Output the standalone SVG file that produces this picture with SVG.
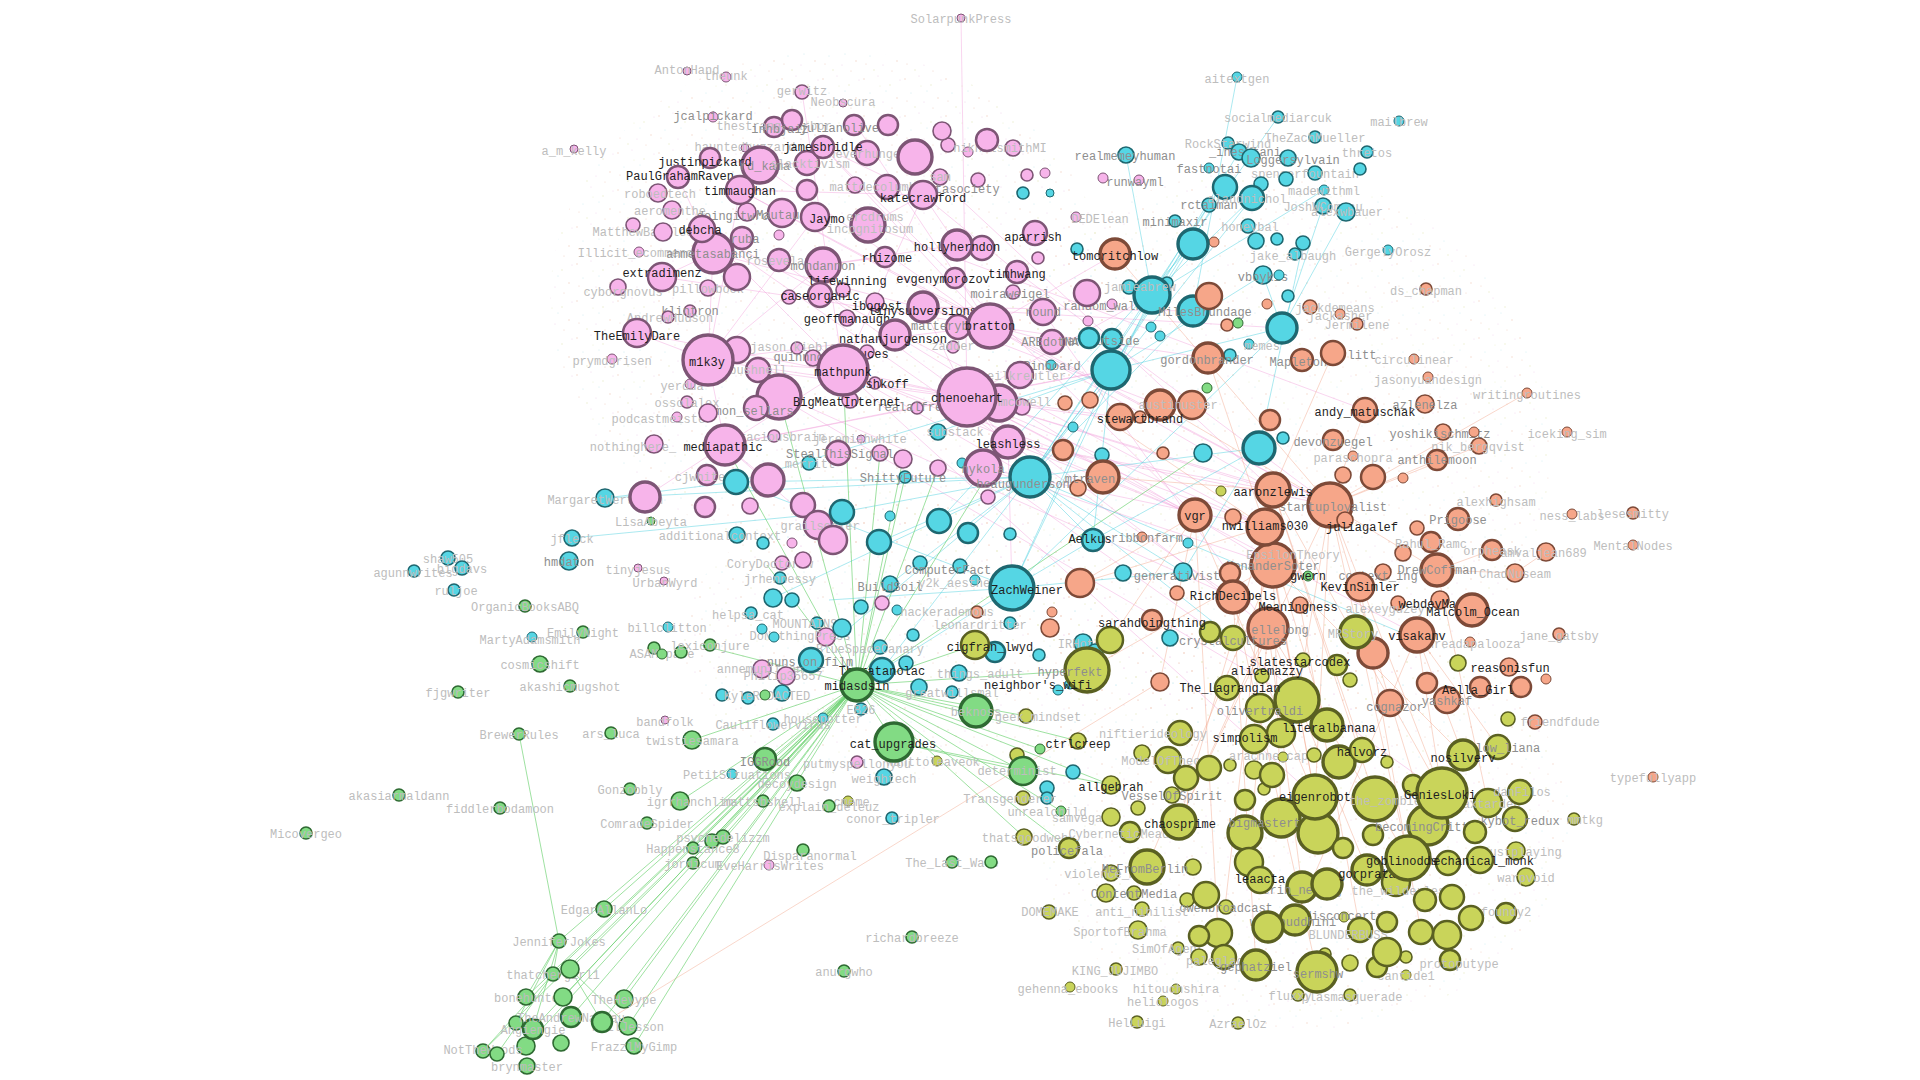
<svg xmlns="http://www.w3.org/2000/svg" width="1920" height="1080" viewBox="0 0 1920 1080">
<defs>
<style>
.p{fill:#f7b4ea;stroke:#7d5575}
.c{fill:#55d6e4;stroke:#1e6770}
.o{fill:#f6a689;stroke:#7d4a38}
.y{fill:#c9d45a;stroke:#5a6022}
.g{fill:#82db84;stroke:#2e6a32}
.w1{stroke-width:1}
.w2{stroke-width:1.6}
.w3{stroke-width:2.5}
.w4{stroke-width:3.4}
text{font-family:"Liberation Mono","DejaVu Sans Mono",monospace;font-size:12px;text-anchor:middle;dominant-baseline:central}
.l{fill:#bdbdbd}
.m{fill:#8e8e8e}
.d{fill:#1e1e1e}
.ep{stroke:#f2a6de;stroke-width:0.8;fill:none;opacity:0.6}
.ec{stroke:#4fd0e0;stroke-width:0.8;fill:none;opacity:0.6}
.eo{stroke:#f1a487;stroke-width:0.8;fill:none;opacity:0.55}
.eg{stroke:#6fd273;stroke-width:0.9;fill:none;opacity:0.75}
</style>
<pattern id="grain" width="41" height="37" patternUnits="userSpaceOnUse">
<circle cx="3" cy="5" r="0.7" fill="#e9a990"/>
<circle cx="17" cy="2" r="0.6" fill="#e6b0e0"/>
<circle cx="29" cy="11" r="0.7" fill="#d9dc9a"/>
<circle cx="9" cy="19" r="0.6" fill="#9fdde6"/>
<circle cx="36" cy="24" r="0.7" fill="#e9a990"/>
<circle cx="22" cy="28" r="0.6" fill="#e6b0e0"/>
<circle cx="13" cy="33" r="0.7" fill="#d9dc9a"/>
<circle cx="31" cy="34" r="0.6" fill="#e9a990"/>
<circle cx="25" cy="17" r="0.6" fill="#9fdde6"/>
<circle cx="39" cy="6" r="0.6" fill="#e6b0e0"/>
<circle cx="5" cy="27" r="0.6" fill="#e9a990"/>
<circle cx="19" cy="12" r="0.5" fill="#d9dc9a"/>
</pattern>
</defs>
<rect width="1920" height="1080" fill="#ffffff"/>
<g id="haze" opacity="0.5">
<ellipse cx="830" cy="300" rx="280" ry="250" fill="url(#grain)"/>
<ellipse cx="1260" cy="450" rx="290" ry="280" fill="url(#grain)"/>
<ellipse cx="1300" cy="820" rx="270" ry="210" fill="url(#grain)"/>
<ellipse cx="900" cy="640" rx="220" ry="140" fill="url(#grain)"/>
</g>
<g id="connectors">
<path class="ep" d="M967 397L708 360M967 397L843 370M967 397L923 307M967 397L725 445M967 397L1008 442M967 397L1273 490M967 397L1195 515M967 397L1330 505M967 397L1265 527M967 397L1111 370M967 397L1030 477M967 397L1152 295M967 397L1120 417M967 397L779 260M967 397L1417 635M967 397L1268 628M990 326L708 360M990 326L823 147M990 326L740 190M990 326L1273 490M990 326L1330 505M990 326L1208 358M990 326L1115 254M990 326L713 253M843 370L708 360M843 370L725 445M843 370L702 229M843 370L923 195M843 370L1030 477M843 370L1195 515M843 370L1265 527M708 360L713 253M708 360L740 190M708 360L637 333M708 360L725 445M708 360L823 265M708 360L815 217M923 195L823 147M923 195L957 245M923 195L1017 272M923 195L740 190M923 195L868 225M725 445L645 497M725 445L768 480M725 445L833 540M725 445L1111 370M1008 442L1273 490M1008 442L1330 505M1008 442L1195 515M1008 442L1012 588M1008 442L1233 597M983 468L1265 527M983 468L1273 565M983 468L1442 793M923 307L1193 311M923 307L1052 342M923 307L1282 328M823 265L957 245M823 265L885 257M713 253L662 277M713 253L678 177M760 165L710 158M760 165L807 163M740 190L1330 505M702 229L1265 527M823 147L1195 515M915 157L1273 490M868 225L1365 410M779 397L1297 700M843 370L1315 797M637 333L967 397M662 277L990 326M779 394L1233 597M856 125L990 326M802 92L843 370M757 370L1102 417M895 335L1273 565M958 327L1160 405M1017 272L1330 505M1043 312L1268 628M961 18L967 397M760 165L990 326M702 229L1008 442"/>
<path class="ec" d="M1030 477L605 498M1030 477L736 482M1030 477L842 512M1030 477L879 542M1030 477L1152 295M1030 477L1193 311M1030 477L1111 370M1030 477L1259 448M1030 477L890 584M1030 477L1093 540M1030 477L1183 572M1030 477L1233 638M1030 477L773 598M1012 588L736 482M1012 588L829 600M1012 588L1111 370M1012 588L1152 295M1012 588L882 670M1012 588L1183 572M1012 588L1093 540M1111 370L1193 244M1111 370L1225 187M1111 370L1282 328M1111 370L1263 275M1111 370L1093 540M1111 370L938 432M1111 370L1209 205M1152 295L1239 152M1152 295L1252 198M1152 295L1324 190M1152 295L1126 155M1282 328L1323 206M1282 328L1263 275M1282 328L1346 212M605 498L736 482M572 538L842 512M1093 540L1259 448M1183 572L1259 448M882 670L1111 370M811 660L1030 477M1030 477L1209 205M1030 477L1252 198M1012 588L1282 328M939 521L1193 244M736 482L1111 370M1259 448L1303 243M1030 477L1407 635M1193 311L1237 77M1152 295L1278 117"/>
<path class="eo" d="M1330 505L1297 700M1330 505L1315 797M1330 505L1442 793M1330 505L1428 825M1330 505L1179 822M1330 505L1408 858M1330 505L1365 410M1330 505L1437 460M1330 505L1437 570M1330 505L1160 405M1330 505L1115 254M1265 527L1315 797M1265 527L1297 700M1265 527L1254 739M1265 527L1327 725M1265 527L1179 822M1265 527L1102 417M1265 527L1208 358M1265 527L1080 583M1273 490L1442 793M1273 490L1375 799M1273 490L1362 750M1273 490L1103 477M1273 490L1333 353M1273 565L1315 797M1273 565L1281 818M1273 565L1147 867M1273 565L1463 755M1273 565L1087 670M1268 628L1302 887M1268 628L1367 870M1268 628L1249 862M1268 628L1408 858M1268 628L1179 822M1195 515L1080 583M1195 515L1315 797M1195 515L1160 682M1195 515L1110 640M1417 635L1442 793M1417 635L1463 755M1417 635L1498 747M1417 635L1295 920M1437 570L1515 573M1437 570L1492 550M1437 570L1488 803M603 1023L1160 682M1515 573L1546 552M1233 597L1317 972M1233 597L1256 965M1300 605L1360 930M1360 587L1421 932M1195 515L1218 933M1330 505L1527 393M1330 505L1479 446M1273 490L1225 907"/>
<path class="eg" d="M857 685L559 941M857 685L553 974M857 685L570 969M857 685L526 997M857 685L563 997M857 685L624 999M857 685L571 1017M857 685L602 1022M857 685L628 1026M857 685L533 1029M857 685L604 909M857 685L526 1046M857 685L634 1046M857 685L483 1051M857 685L692 740M857 685L680 801M857 685L712 841M857 685L723 837M857 685L693 848M857 685L765 759M857 685L1078 741M857 685L1023 771M857 685L976 711M857 685L894 742M857 685L1111 785M857 685L1040 749M857 685L1026 716M857 685L1061 811M857 685L1069 848M857 685L1024 837M857 685L975 645M857 685L1087 670M857 685L843 370M857 685L903 459M857 685L938 468M857 685L880 453M857 685L905 477M857 685L1008 442M857 685L767 565M857 685L700 645M857 685L779 397M857 685L725 445M857 685L1203 453M519 734L559 941M559 941L553 974M559 941L526 997M559 941L533 1029M559 941L516 1023M553 974L483 1051M553 974L497 1054M570 969L628 1026M570 969L602 1022M894 742L1023 771M894 742L1111 785"/>
</g>
<g id="nodes">
<g id="n-AntonHand"><circle class="p w1" cx="687" cy="71" r="4"/><text class="l" x="687" y="71">AntonHand</text></g>
<g id="n-theunk"><circle class="p w1" cx="726" cy="77" r="5"/><text class="l" x="726" y="77">theunk</text></g>
<g id="n-gerwitz"><circle class="p w2" cx="802" cy="92" r="7"/><text class="l" x="802" y="92">gerwitz</text></g>
<g id="n-Neobscura"><circle class="p w1" cx="843" cy="103" r="4"/><text class="l" x="843" y="103">Neobscura</text></g>
<g id="n-jcalpickard"><circle class="p w1" cx="713" cy="117" r="5"/><text class="m" x="713" y="117">jcalpickard</text></g>
<g id="n-SolarpunkPress"><circle class="p w1" cx="961" cy="18" r="4"/><text class="l" x="961" y="20">SolarpunkPress</text></g>
<g id="n-a_m_kelly"><circle class="p w1" cx="574" cy="149" r="4"/><text class="l" x="574" y="152">a_m_kelly</text></g>
<g id="n-hauntedbuzzard"><circle class="p w1" cx="745" cy="148" r="4"/><text class="l" x="745" y="148">hauntedbuzzard</text></g>
<g id="n-p1"><circle class="p w2" cx="948" cy="145" r="7"/></g>
<g id="n-p2"><circle class="p w1" cx="968" cy="152" r="5"/></g>
<g id="n-p3"><circle class="p w2" cx="1013" cy="148" r="8"/><text class="l" x="1000" y="149">nikhilsmithMI</text></g>
<g id="n-p4"><circle class="p w2" cx="1027" cy="175" r="6"/></g>
<g id="n-p5"><circle class="p w1" cx="1045" cy="173" r="5"/></g>
<g id="n-roboedtech"><circle class="p w2" cx="658" cy="193" r="9"/><text class="l" x="660" y="195">roboedtech</text></g>
<g id="n-p6"><circle class="p w2" cx="855" cy="185" r="8"/></g>
<g id="n-sam"><circle class="p w2" cx="940" cy="177" r="8"/><text class="l" x="940" y="178">sam</text></g>
<g id="n-datasociety"><circle class="p w2" cx="978" cy="180" r="7"/><text class="m" x="960" y="190">datasociety</text></g>
<g id="n-aeromenthe"><circle class="p w2" cx="672" cy="210" r="9"/><text class="l" x="670" y="212">aeromenthe</text></g>
<g id="n-doingitwrong"><circle class="p w2" cx="747" cy="212" r="9"/><text class="m" x="740" y="217">doingitwrong</text></g>
<g id="n-MatthewBattles"><circle class="p w2" cx="633" cy="225" r="7"/><text class="l" x="643" y="233">MatthewBattles</text></g>
<g id="n-p7"><circle class="p w2" cx="663" cy="232" r="9"/></g>
<g id="n-p8"><circle class="p w1" cx="779" cy="235" r="5"/></g>
<g id="n-Illicit_ecommerce"><circle class="p w1" cx="639" cy="252" r="5"/><text class="l" x="639" y="254">Illicit_ecommerce</text></g>
<g id="n-p9"><circle class="p w2" cx="1038" cy="258" r="6"/></g>
<g id="n-moiraweigel"><circle class="p w2" cx="1013" cy="292" r="7"/><text class="m" x="1010" y="295">moiraweigel</text></g>
<g id="n-cyborgnovus"><circle class="p w2" cx="618" cy="287" r="8"/><text class="l" x="623" y="293">cyborgnovus</text></g>
<g id="n-pillowbook"><circle class="p w2" cx="708" cy="288" r="8"/><text class="l" x="708" y="290">pillowbook</text></g>
<g id="n-p10"><circle class="p w2" cx="789" cy="297" r="7"/></g>
<g id="n-klintron"><circle class="p w2" cx="690" cy="311" r="6"/><text class="m" x="690" y="312">klintron</text></g>
<g id="n-AndrewHudson"><circle class="p w2" cx="668" cy="317" r="6"/><text class="l" x="670" y="319">AndrewHudson</text></g>
<g id="n-jason_kiebler"><circle class="p w2" cx="797" cy="348" r="6"/><text class="l" x="797" y="348">jason_kiebler</text></g>
<g id="n-quinnnorton"><circle class="p w2" cx="813" cy="358" r="8"/><text class="m" x="813" y="358">quinnnorton</text></g>
<g id="n-zadder"><circle class="p w2" cx="953" cy="347" r="6"/><text class="l" x="953" y="347">zadder</text></g>
<g id="n-p11"><circle class="p w1" cx="1088" cy="321" r="5"/></g>
<g id="n-random_walker"><circle class="p w1" cx="1112" cy="304" r="5"/><text class="m" x="1110" y="307">random_walker</text></g>
<g id="n-DEDElean"><circle class="p w1" cx="1076" cy="217" r="5"/><text class="l" x="1100" y="220">DEDElean</text></g>
<g id="n-runwayml"><circle class="p w1" cx="1139" cy="180" r="5"/><text class="m" x="1135" y="183">runwayml</text></g>
<g id="n-p12"><circle class="p w1" cx="1103" cy="178" r="5"/></g>
<g id="n-yerdua"><circle class="p w1" cx="690" cy="384" r="5"/><text class="l" x="682" y="387">yerdua</text></g>
<g id="n-ossolalex"><circle class="p w2" cx="687" cy="402" r="6"/><text class="l" x="687" y="404">ossolalex</text></g>
<g id="n-podcastmeister"><circle class="p w1" cx="677" cy="417" r="5"/><text class="l" x="662" y="420">podcastmeister</text></g>
<g id="n-realalfremp"><circle class="p w2" cx="917" cy="408" r="6"/><text class="m" x="917" y="408">realalfremp</text></g>
<g id="n-p13"><circle class="p w2" cx="1022" cy="407" r="8"/></g>
<g id="n-voraciousbrain"><circle class="p w2" cx="774" cy="436" r="6"/><text class="l" x="775" y="438">voraciousbrain</text></g>
<g id="n-jeremiahwhite"><circle class="p w1" cx="861" cy="439" r="4"/><text class="l" x="860" y="440">jeremiahwhite</text></g>
<g id="n-p14"><circle class="p w2" cx="880" cy="453" r="8"/></g>
<g id="n-p15"><circle class="p w2" cx="903" cy="459" r="9"/></g>
<g id="n-p16"><circle class="p w2" cx="938" cy="468" r="8"/></g>
<g id="n-p18"><circle class="p w2" cx="988" cy="497" r="7"/></g>
<g id="n-p19"><circle class="p w2" cx="750" cy="506" r="8"/></g>
<g id="n-p20"><circle class="p w1" cx="792" cy="543" r="5"/></g>
<g id="n-tinyjesus"><circle class="p w1" cx="638" cy="568" r="4"/><text class="l" x="638" y="571">tinyjesus</text></g>
<g id="n-UrbanWyrd"><circle class="p w1" cx="664" cy="581" r="4"/><text class="l" x="665" y="584">UrbanWyrd</text></g>
<g id="n-CoryDoctorow"><circle class="p w2" cx="782" cy="563" r="7"/><text class="l" x="770" y="565">CoryDoctorow</text></g>
<g id="n-p21"><circle class="p w2" cx="803" cy="560" r="8"/></g>
<g id="n-p22"><circle class="p w2" cx="882" cy="603" r="7"/></g>
<g id="n-annemunition"><circle class="p w2" cx="762" cy="669" r="9"/><text class="l" x="760" y="670">annemunition</text></g>
<g id="n-Philip35657"><circle class="p w2" cx="786" cy="676" r="9"/><text class="l" x="783" y="677">Philip35657</text></g>
<g id="n-DoNothingPress"><circle class="p w2" cx="826" cy="637" r="9"/><text class="l" x="800" y="637">DoNothingPress</text></g>
<g id="n-bandfolk"><circle class="p w1" cx="665" cy="720" r="4"/><text class="l" x="665" y="723">bandfolk</text></g>
<g id="n-putmyspellonyou"><circle class="p w2" cx="857" cy="762" r="6"/><text class="l" x="857" y="765">putmyspellonyou</text></g>
<g id="n-EveHarrisWrites"><circle class="p w1" cx="769" cy="865" r="5"/><text class="l" x="770" y="867">EveHarrisWrites</text></g>
<g id="n-prymdgrisen"><circle class="p w1" cx="612" cy="359" r="5"/><text class="l" x="612" y="362">prymdgrisen</text></g>
<g id="n-nothinghere"><circle class="p w2" cx="654" cy="444" r="9"/><text class="l" x="633" y="448">nothinghere_</text></g>

<g id="n-aitextgen"><circle class="c w1" cx="1237" cy="77" r="5"/><text class="l" x="1237" y="80">aitextgen</text></g>
<g id="n-socialmediarcuk"><circle class="c w2" cx="1278" cy="117" r="6"/><text class="l" x="1278" y="119">socialmediarcuk</text></g>
<g id="n-mailbrew"><circle class="c w1" cx="1399" cy="121" r="5"/><text class="l" x="1399" y="123">mailbrew</text></g>
<g id="n-TheZachMueller"><circle class="c w2" cx="1315" cy="137" r="6"/><text class="l" x="1315" y="139">TheZachMueller</text></g>
<g id="n-RockStarwind"><circle class="c w2" cx="1228" cy="143" r="6"/><text class="l" x="1228" y="145">RockStarwind</text></g>
<g id="n-thretos"><circle class="c w2" cx="1367" cy="152" r="6"/><text class="l" x="1367" y="154">thretos</text></g>
<g id="n-_ineshtani"><circle class="c w2" cx="1239" cy="152" r="8"/><text class="m" x="1245" y="153">_ineshtani</text></g>
<g id="n-c1"><circle class="c w2" cx="1251" cy="158" r="9"/></g>
<g id="n-Loggersylvain"><circle class="c w2" cx="1288" cy="158" r="8"/><text class="m" x="1293" y="161">Loggersylvain</text></g>
<g id="n-realmemeyhuman"><circle class="c w2" cx="1126" cy="155" r="8"/><text class="m" x="1125" y="157">realmemeyhuman</text></g>
<g id="n-fastnotai"><circle class="c w1" cx="1209" cy="168" r="5"/><text class="m" x="1209" y="170">fastnotai</text></g>
<g id="n-spencerfountain"><circle class="c w2" cx="1315" cy="173" r="7"/><text class="l" x="1305" y="175">spencerfountain</text></g>
<g id="n-c2"><circle class="c w2" cx="1286" cy="179" r="7"/></g>
<g id="n-c3"><circle class="c w2" cx="1360" cy="169" r="6"/></g>
<g id="n-c4"><circle class="c w2" cx="1261" cy="184" r="7"/></g>
<g id="n-madewithml"><circle class="c w1" cx="1324" cy="190" r="5"/><text class="l" x="1324" y="192">madewithml</text></g>
<g id="n-JoshWComeau"><circle class="c w2" cx="1323" cy="206" r="8"/><text class="l" x="1323" y="208">JoshWComeau</text></g>
<g id="n-alexwbauer"><circle class="c w2" cx="1346" cy="212" r="9"/><text class="l" x="1347" y="213">alexwbauer</text></g>
<g id="n-rctaiman"><circle class="c w2" cx="1209" cy="205" r="7"/><text class="m" x="1209" y="206">rctaiman</text></g>
<g id="n-minimaxir"><circle class="c w2" cx="1175" cy="221" r="6"/><text class="m" x="1175" y="223">minimaxir</text></g>
<g id="n-honeybal"><circle class="c w2" cx="1248" cy="226" r="7"/><text class="l" x="1250" y="228">honeybal</text></g>
<g id="n-GergelyOrosz"><circle class="c w1" cx="1388" cy="250" r="5"/><text class="l" x="1388" y="253">GergelyOrosz</text></g>
<g id="n-c5"><circle class="c w2" cx="1077" cy="249" r="6"/></g>
<g id="n-c6"><circle class="c w2" cx="1256" cy="241" r="8"/></g>
<g id="n-c7"><circle class="c w2" cx="1277" cy="239" r="6"/></g>
<g id="n-c8"><circle class="c w2" cx="1303" cy="243" r="7"/></g>
<g id="n-jake_albaugh"><circle class="c w2" cx="1295" cy="254" r="6"/><text class="l" x="1293" y="257">jake_albaugh</text></g>
<g id="n-vboykis"><circle class="c w2" cx="1263" cy="275" r="9"/><text class="m" x="1263" y="278">vboykis</text></g>
<g id="n-c9"><circle class="c w1" cx="1279" cy="275" r="5"/></g>
<g id="n-c10"><circle class="c w2" cx="1288" cy="296" r="6"/></g>
<g id="n-c11"><circle class="c w2" cx="1129" cy="287" r="7"/></g>
<g id="n-c12"><circle class="c w2" cx="1167" cy="283" r="6"/></g>
<g id="n-c13"><circle class="c w1" cx="1151" cy="327" r="5"/></g>
<g id="n-c14"><circle class="c w1" cx="1160" cy="336" r="5"/></g>
<g id="n-memes"><circle class="c w1" cx="1249" cy="344" r="5"/><text class="l" x="1262" y="347">memes</text></g>
<g id="n-c15"><circle class="c w2" cx="1230" cy="355" r="6"/></g>
<g id="n-Pinboard"><circle class="c w1" cx="1051" cy="365" r="5"/><text class="m" x="1052" y="367">Pinboard</text></g>
<g id="n-substack"><circle class="c w2" cx="938" cy="432" r="8"/><text class="l" x="955" y="433">substack</text></g>
<g id="n-c16"><circle class="c w1" cx="1073" cy="427" r="5"/></g>
<g id="n-c17"><circle class="c w2" cx="1102" cy="455" r="7"/></g>
<g id="n-c18"><circle class="c w2" cx="1203" cy="453" r="9"/></g>
<g id="n-c19"><circle class="c w1" cx="962" cy="463" r="5"/></g>
<g id="n-ShittyFuture"><circle class="c w2" cx="905" cy="477" r="6"/><text class="m" x="903" y="479">ShittyFuture</text></g>
<g id="n-c20"><circle class="c w2" cx="1283" cy="438" r="6"/></g>
<g id="n-c21"><circle class="c w1" cx="1188" cy="543" r="5"/></g>
<g id="n-c22"><circle class="c w2" cx="1123" cy="573" r="8"/></g>
<g id="n-generativist"><circle class="c w2" cx="1183" cy="572" r="9"/><text class="m" x="1177" y="577">generativist</text></g>
<g id="n-c23"><circle class="c w2" cx="1170" cy="638" r="8"/></g>
<g id="n-c24"><circle class="c w2" cx="1083" cy="642" r="6"/></g>
<g id="n-c25"><circle class="c w1" cx="1070" cy="684" r="5"/></g>
<g id="n-MargaretWertheim"><circle class="c w2" cx="605" cy="498" r="9"/><text class="l" x="605" y="501">MargaretWertheim</text></g>
<g id="n-jfleck"><circle class="c w2" cx="572" cy="538" r="8"/><text class="l" x="572" y="540">jfleck</text></g>
<g id="n-hmdaton"><circle class="c w2" cx="569" cy="561" r="9"/><text class="m" x="569" y="563">hmdaton</text></g>
<g id="n-shaw505"><circle class="c w2" cx="448" cy="558" r="7"/><text class="l" x="448" y="560">shaw505</text></g>
<g id="n-agunnwrites"><circle class="c w2" cx="414" cy="571" r="6"/><text class="l" x="413" y="574">agunnwrites</text></g>
<g id="n-bigdavs"><circle class="c w2" cx="462" cy="568" r="7"/><text class="l" x="462" y="570">bigdavs</text></g>
<g id="n-ruljoe"><circle class="c w2" cx="454" cy="590" r="6"/><text class="l" x="456" y="592">ruljoe</text></g>
<g id="n-MartyAdamsmith"><circle class="c w1" cx="532" cy="637" r="5"/><text class="l" x="530" y="641">MartyAdamsmith</text></g>
<g id="n-billclitton"><circle class="c w1" cx="668" cy="627" r="5"/><text class="l" x="667" y="629">billclitton</text></g>
<g id="n-merritt"><circle class="c w2" cx="809" cy="463" r="7"/><text class="l" x="810" y="465">merritt</text></g>
<g id="n-additionalcontext"><circle class="c w2" cx="737" cy="535" r="8"/><text class="l" x="720" y="537">additionalcontext</text></g>
<g id="n-c26"><circle class="c w2" cx="763" cy="543" r="6"/></g>
<g id="n-c27"><circle class="c w1" cx="890" cy="516" r="5"/></g>
<g id="n-c28"><circle class="c w2" cx="1010" cy="534" r="6"/></g>
<g id="n-jrhennessy"><circle class="c w2" cx="780" cy="578" r="6"/><text class="l" x="780" y="580">jrhennessy</text></g>
<g id="n-BuildSoil"><circle class="c w2" cx="890" cy="584" r="8"/><text class="m" x="890" y="588">BuildSoil</text></g>
<g id="n-c29"><circle class="c w2" cx="920" cy="563" r="7"/></g>
<g id="n-ComputerFact"><circle class="c w2" cx="960" cy="566" r="7"/><text class="m" x="948" y="571">ComputerFact</text></g>
<g id="n-y2k_aesthetic"><circle class="c w1" cx="975" cy="580" r="5"/><text class="l" x="965" y="584">y2k_aesthetic</text></g>
<g id="n-c30"><circle class="c w2" cx="773" cy="598" r="9"/></g>
<g id="n-c31"><circle class="c w2" cx="792" cy="600" r="7"/></g>
<g id="n-c32"><circle class="c w2" cx="861" cy="607" r="7"/></g>
<g id="n-c33"><circle class="c w1" cx="897" cy="610" r="5"/></g>
<g id="n-helpsa_cat"><circle class="c w2" cx="751" cy="613" r="6"/><text class="l" x="748" y="616">helpsa_cat</text></g>
<g id="n-MOUNTAINS"><circle class="c w2" cx="817" cy="623" r="6"/><text class="l" x="805" y="625">MOUNTAINS</text></g>
<g id="n-c34"><circle class="c w1" cx="762" cy="629" r="5"/></g>
<g id="n-c35"><circle class="c w1" cx="774" cy="637" r="5"/></g>
<g id="n-c36"><circle class="c w2" cx="842" cy="628" r="9"/></g>
<g id="n-c37"><circle class="c w2" cx="913" cy="635" r="6"/></g>
<g id="n-c38"><circle class="c w2" cx="1010" cy="623" r="6"/></g>
<g id="n-BlueSpaceCanary"><circle class="c w2" cx="880" cy="647" r="7"/><text class="l" x="870" y="650">BlueSpaceCanary</text></g>
<g id="n-things_adult"><circle class="c w2" cx="959" cy="673" r="8"/><text class="l" x="980" y="675">things_adult</text></g>
<g id="n-c39"><circle class="c w2" cx="906" cy="663" r="7"/></g>
<g id="n-c40"><circle class="c w2" cx="919" cy="687" r="8"/></g>
<g id="n-greatwillsmal"><circle class="c w2" cx="952" cy="692" r="6"/><text class="l" x="952" y="694">greatwillsmal</text></g>
<g id="n-EB26"><circle class="c w2" cx="861" cy="709" r="6"/><text class="l" x="861" y="711">EB26</text></g>
<g id="n-housepotter"><circle class="c w1" cx="823" cy="718" r="5"/><text class="l" x="823" y="720">housepotter</text></g>
<g id="n-Cauliflowervirus"><circle class="c w2" cx="773" cy="724" r="6"/><text class="l" x="773" y="726">Cauliflowervirus</text></g>
<g id="n-c41"><circle class="c w2" cx="722" cy="695" r="6"/></g>
<g id="n-c42"><circle class="c w2" cx="748" cy="698" r="6"/></g>
<g id="n-KyleREDACTED"><circle class="c w2" cx="782" cy="693" r="8"/><text class="l" x="767" y="697">KyleREDACTED</text></g>
<g id="n-PetitSituations"><circle class="c w1" cx="732" cy="774" r="5"/><text class="l" x="737" y="776">PetitSituations</text></g>
<g id="n-weightech"><circle class="c w2" cx="884" cy="777" r="8"/><text class="l" x="884" y="780">weightech</text></g>
<g id="n-conor_tripler"><circle class="c w2" cx="892" cy="818" r="6"/><text class="l" x="893" y="820">conor_tripler</text></g>
<g id="n-c43"><circle class="c w2" cx="1039" cy="655" r="6"/></g>
<g id="n-IRHotel"><circle class="c w2" cx="1083" cy="643" r="9"/><text class="l" x="1083" y="645">IRHotel</text></g>
<g id="n-c44"><circle class="c w2" cx="1095" cy="652" r="8"/></g>
<g id="n-c45"><circle class="c w2" cx="1073" cy="772" r="7"/></g>
<g id="n-c46"><circle class="c w2" cx="1047" cy="788" r="7"/></g>
<g id="n-c47"><circle class="c w2" cx="1047" cy="798" r="6"/></g>
<g id="n-c48"><circle class="c w2" cx="1023" cy="193" r="6"/></g>
<g id="n-c49"><circle class="c w1" cx="1050" cy="193" r="4"/></g>

<g id="n-o1"><circle class="o w1" cx="1214" cy="242" r="5"/></g>
<g id="n-o2"><circle class="o w2" cx="1310" cy="307" r="7"/><text class="l" x="1335" y="309">jackdemeans</text></g>
<g id="n-jackasher"><circle class="o w1" cx="1340" cy="314" r="5"/><text class="l" x="1340" y="317">jackasher</text></g>
<g id="n-Jermilene"><circle class="o w2" cx="1357" cy="324" r="6"/><text class="l" x="1357" y="326">Jermilene</text></g>
<g id="n-ds_chapman"><circle class="o w2" cx="1426" cy="289" r="6"/><text class="l" x="1426" y="292">ds_chapman</text></g>
<g id="n-o3"><circle class="o w2" cx="1227" cy="325" r="6"/></g>
<g id="n-o4"><circle class="o w1" cx="1267" cy="304" r="5"/></g>
<g id="n-circulinear"><circle class="o w1" cx="1414" cy="359" r="5"/><text class="l" x="1414" y="361">circulinear</text></g>
<g id="n-jasonyuandesign"><circle class="o w1" cx="1428" cy="377" r="5"/><text class="l" x="1428" y="381">jasonyuandesign</text></g>
<g id="n-writingroutines"><circle class="o w1" cx="1527" cy="393" r="5"/><text class="l" x="1527" y="396">writingroutines</text></g>
<g id="n-azlenelza"><circle class="o w2" cx="1425" cy="404" r="9"/><text class="m" x="1425" y="406">azlenelza</text></g>
<g id="n-yoshikischmitz"><circle class="o w2" cx="1443" cy="432" r="8"/><text class="m" x="1440" y="435">yoshikischmitz</text></g>
<g id="n-o5"><circle class="o w1" cx="1474" cy="432" r="5"/></g>
<g id="n-iceking_sim"><circle class="o w1" cx="1567" cy="432" r="5"/><text class="l" x="1567" y="435">iceking_sim</text></g>
<g id="n-nik_bergqvist"><circle class="o w2" cx="1479" cy="446" r="8"/><text class="l" x="1478" y="448">nik_bergqvist</text></g>
<g id="n-o6"><circle class="o w1" cx="1403" cy="478" r="5"/></g>
<g id="n-alexhighsam"><circle class="o w2" cx="1496" cy="500" r="6"/><text class="l" x="1496" y="503">alexhighsam</text></g>
<g id="n-ness_labs"><circle class="o w1" cx="1572" cy="514" r="5"/><text class="l" x="1572" y="517">ness_labs</text></g>
<g id="n-lesesmitty"><circle class="o w2" cx="1633" cy="513" r="6"/><text class="l" x="1633" y="515">lesesmitty</text></g>
<g id="n-MentalNodes"><circle class="o w1" cx="1633" cy="545" r="5"/><text class="l" x="1633" y="547">MentalNodes</text></g>
<g id="n-ChadNuseam"><circle class="o w2" cx="1515" cy="573" r="9"/><text class="l" x="1515" y="575">ChadNuseam</text></g>
<g id="n-samvaljean689"><circle class="o w2" cx="1546" cy="552" r="9"/><text class="l" x="1540" y="554">samvaljean689</text></g>
<g id="n-o7"><circle class="o w2" cx="1417" cy="528" r="7"/></g>
<g id="n-o8"><circle class="o w2" cx="1140" cy="417" r="6"/></g>
<g id="n-o9"><circle class="o w2" cx="1065" cy="403" r="7"/></g>
<g id="n-o10"><circle class="o w2" cx="1090" cy="400" r="8"/></g>
<g id="n-paraschopra"><circle class="o w1" cx="1353" cy="456" r="5"/><text class="l" x="1353" y="459">paraschopra</text></g>
<g id="n-o11"><circle class="o w2" cx="1343" cy="475" r="8"/></g>
<g id="n-o12"><circle class="o w2" cx="1233" cy="517" r="8"/></g>
<g id="n-ribbonfarm"><circle class="o w1" cx="1142" cy="537" r="5"/><text class="m" x="1147" y="539">ribbonfarm</text></g>
<g id="n-context_ing"><circle class="o w2" cx="1383" cy="572" r="8"/><text class="m" x="1378" y="577">context_ing</text></g>
<g id="n-o13"><circle class="o w2" cx="1403" cy="553" r="8"/></g>
<g id="n-o14"><circle class="o w2" cx="1177" cy="593" r="7"/></g>
<g id="n-alexeyguzey"><circle class="o w2" cx="1398" cy="603" r="7"/><text class="l" x="1385" y="610">alexeyguzey</text></g>
<g id="n-threadapalooza"><circle class="o w1" cx="1470" cy="642" r="5"/><text class="l" x="1470" y="645">threadapalooza</text></g>
<g id="n-jane_gatsby"><circle class="o w2" cx="1559" cy="634" r="6"/><text class="l" x="1559" y="637">jane_gatsby</text></g>
<g id="n-o15"><circle class="o w1" cx="1546" cy="679" r="5"/></g>
<g id="n-o16"><circle class="o w2" cx="1160" cy="682" r="9"/></g>
<g id="n-o17"><circle class="o w2" cx="1535" cy="722" r="7"/><text class="l" x="1560" y="723">friendfdude</text></g>
<g id="n-typefullyapp"><circle class="o w1" cx="1653" cy="777" r="5"/><text class="l" x="1653" y="779">typefullyapp</text></g>
<g id="n-o18"><circle class="o w2" cx="1163" cy="453" r="6"/></g>
<g id="n-o19"><circle class="o w2" cx="1078" cy="488" r="8"/></g>
<g id="n-o20"><circle class="o w2" cx="977" cy="612" r="6"/><text class="l" x="947" y="613">hackerademous</text></g>
<g id="n-o21"><circle class="o w1" cx="1052" cy="612" r="5"/></g>
<g id="n-o22"><circle class="o w2" cx="1050" cy="628" r="9"/><text class="l" x="980" y="626">leonardritter</text></g>

<g id="n-y1"><circle class="y w1" cx="1221" cy="491" r="5"/></g>
<g id="n-y2"><circle class="y w2" cx="1350" cy="680" r="7"/></g>
<g id="n-y3"><circle class="y w2" cx="1458" cy="663" r="8"/></g>
<g id="n-geek_mindset"><circle class="y w2" cx="1026" cy="716" r="7"/><text class="l" x="1038" y="718">geek_mindset</text></g>
<g id="n-y4"><circle class="y w2" cx="1017" cy="755" r="7"/></g>
<g id="n-wanttoleaveok"><circle class="y w1" cx="937" cy="761" r="5"/><text class="l" x="933" y="763">wanttoleaveok</text></g>
<g id="n-acmeme"><circle class="y w1" cx="848" cy="801" r="5"/><text class="l" x="848" y="803">acmeme</text></g>
<g id="n-y5"><circle class="y w2" cx="1023" cy="798" r="7"/><text class="l" x="1010" y="800">Transgenderer</text></g>
<g id="n-thatsgoodweb"><circle class="y w2" cx="1024" cy="837" r="8"/><text class="l" x="1025" y="839">thatsgoodweb</text></g>
<g id="n-DOMEMAKE"><circle class="y w2" cx="1049" cy="912" r="7"/><text class="l" x="1050" y="913">DOMEMAKE</text></g>
<g id="n-y6"><circle class="y w2" cx="1142" cy="753" r="8"/></g>
<g id="n-y7"><circle class="y w2" cx="1230" cy="765" r="6"/></g>
<g id="n-y8"><circle class="y w2" cx="1254" cy="770" r="9"/></g>
<g id="n-arachne_capital"><circle class="y w1" cx="1283" cy="757" r="5"/><text class="l" x="1283" y="757">arachne_capital</text></g>
<g id="n-y9"><circle class="y w2" cx="1314" cy="755" r="7"/></g>
<g id="n-y10"><circle class="y w2" cx="1387" cy="762" r="6"/></g>
<g id="n-y11"><circle class="y w2" cx="1138" cy="808" r="7"/></g>
<g id="n-y12"><circle class="y w2" cx="1264" cy="789" r="6"/></g>
<g id="n-mtkg"><circle class="y w2" cx="1574" cy="819" r="6"/><text class="l" x="1585" y="821">mmtkg</text></g>
<g id="n-samvega"><circle class="y w2" cx="1111" cy="817" r="9"/><text class="l" x="1077" y="819">samvega</text></g>
<g id="n-y13"><circle class="y w2" cx="1508" cy="719" r="7"/></g>
<g id="n-justplaying"><circle class="y w2" cx="1516" cy="851" r="9"/><text class="l" x="1522" y="853">justplaying</text></g>
<g id="n-warpvoid"><circle class="y w2" cx="1526" cy="877" r="9"/><text class="l" x="1526" y="879">warpvoid</text></g>
<g id="n-y14"><circle class="y w2" cx="1193" cy="867" r="8"/></g>
<g id="n-y15"><circle class="y w2" cx="1111" cy="873" r="8"/><text class="l" x="1111" y="875">violence_mage</text></g>
<g id="n-y17"><circle class="y w2" cx="1106" cy="893" r="9"/></g>
<g id="n-ContentMedia"><circle class="y w2" cx="1134" cy="893" r="7"/><text class="m" x="1134" y="895">ContentMedia</text></g>
<g id="n-y18"><circle class="y w2" cx="1187" cy="900" r="7"/></g>
<g id="n-owenbroadcast"><circle class="y w2" cx="1226" cy="907" r="7"/><text class="m" x="1226" y="909">owenbroadcast</text></g>
<g id="n-anti_nihilist"><circle class="y w2" cx="1142" cy="909" r="7"/><text class="l" x="1142" y="913">anti_nihilist</text></g>
<g id="n-disconcerta"><circle class="y w1" cx="1344" cy="917" r="5"/><text class="m" x="1344" y="917">disconcerta</text></g>
<g id="n-SportofBrahma"><circle class="y w2" cx="1138" cy="930" r="9"/><text class="l" x="1120" y="933">SportofBrahma</text></g>
<g id="n-SimOfAgent"><circle class="y w2" cx="1178" cy="948" r="6"/><text class="l" x="1168" y="950">SimOfAgent</text></g>
<g id="n-y19"><circle class="y w2" cx="1199" cy="957" r="8"/></g>
<g id="n-y20"><circle class="y w2" cx="1325" cy="954" r="6"/></g>
<g id="n-y21"><circle class="y w2" cx="1350" cy="963" r="8"/></g>
<g id="n-y22"><circle class="y w2" cx="1406" cy="957" r="6"/></g>
<g id="n-cantide1"><circle class="y w1" cx="1406" cy="975" r="5"/><text class="l" x="1406" y="977">cantide1</text></g>
<g id="n-KING_JUJIMBO"><circle class="y w2" cx="1116" cy="969" r="6"/><text class="l" x="1115" y="972">KING_JUJIMBO</text></g>
<g id="n-gehenna_ebooks"><circle class="y w1" cx="1070" cy="987" r="5"/><text class="l" x="1068" y="990">gehenna_ebooks</text></g>
<g id="n-hitouchshira"><circle class="y w1" cx="1176" cy="989" r="5"/><text class="l" x="1176" y="990">hitouchshira</text></g>
<g id="n-heliologos"><circle class="y w1" cx="1163" cy="1001" r="5"/><text class="l" x="1163" y="1003">heliologos</text></g>
<g id="n-plasmasquerade"><circle class="y w2" cx="1350" cy="995" r="6"/><text class="l" x="1352" y="998">plasmasquerade</text></g>
<g id="n-fluxxy"><circle class="y w2" cx="1298" cy="995" r="6"/><text class="l" x="1290" y="997">fluxxy</text></g>
<g id="n-HelLuigi"><circle class="y w2" cx="1137" cy="1022" r="6"/><text class="l" x="1137" y="1024">HelLuigi</text></g>
<g id="n-AzraelOz"><circle class="y w2" cx="1238" cy="1023" r="6"/><text class="l" x="1238" y="1025">AzraelOz</text></g>
<g id="n-VesselOfSpirit"><circle class="y w2" cx="1172" cy="795" r="8"/><text class="m" x="1172" y="797">VesselOfSpirit</text></g>

<g id="n-LisaAbeyta"><circle class="g w1" cx="651" cy="521" r="4"/><text class="l" x="651" y="523">LisaAbeyta</text></g>
<g id="n-OrganicBooksABQ"><circle class="g w2" cx="525" cy="606" r="6"/><text class="l" x="525" y="608">OrganicBooksABQ</text></g>
<g id="n-EmilyNight"><circle class="g w2" cx="583" cy="632" r="6"/><text class="l" x="583" y="634">EmilyNight</text></g>
<g id="n-ASAMspace"><circle class="g w2" cx="654" cy="648" r="6"/><text class="l" x="662" y="655">ASAMspace</text></g>
<g id="n-g1"><circle class="g w1" cx="662" cy="654" r="5"/></g>
<g id="n-g2"><circle class="g w2" cx="681" cy="652" r="6"/></g>
<g id="n-lexiconjure"><circle class="g w2" cx="710" cy="645" r="6"/><text class="l" x="710" y="647">lexiconjure</text></g>
<g id="n-cosmicshift"><circle class="g w2" cx="540" cy="664" r="8"/><text class="l" x="540" y="666">cosmicshift</text></g>
<g id="n-akashicmugshot"><circle class="g w2" cx="570" cy="686" r="6"/><text class="l" x="570" y="688">akashicmugshot</text></g>
<g id="n-fjgwriter"><circle class="g w2" cx="458" cy="692" r="6"/><text class="l" x="458" y="694">fjgwriter</text></g>
<g id="n-BrewerRules"><circle class="g w2" cx="519" cy="734" r="6"/><text class="l" x="519" y="736">BrewerRules</text></g>
<g id="n-ars_luca"><circle class="g w2" cx="611" cy="733" r="6"/><text class="l" x="611" y="735">ars_luca</text></g>
<g id="n-twistiesamara"><circle class="g w2" cx="692" cy="740" r="9"/><text class="l" x="692" y="742">twistiesamara</text></g>
<g id="n-akasiarmaldann"><circle class="g w2" cx="399" cy="795" r="6"/><text class="l" x="399" y="797">akasiarmaldann</text></g>
<g id="n-fiddlerbodamoon"><circle class="g w2" cx="500" cy="808" r="6"/><text class="l" x="500" y="810">fiddlerbodamoon</text></g>
<g id="n-Micovergeo"><circle class="g w2" cx="306" cy="833" r="6"/><text class="l" x="306" y="835">Micovergeo</text></g>
<g id="n-Gonzobbly"><circle class="g w2" cx="630" cy="789" r="6"/><text class="l" x="630" y="791">Gonzobbly</text></g>
<g id="n-igrrhan"><circle class="g w2" cx="680" cy="801" r="9"/><text class="l" x="690" y="803">igrrhanchlim</text></g>
<g id="n-ComradeSpider"><circle class="g w2" cx="647" cy="823" r="6"/><text class="l" x="647" y="825">ComradeSpider</text></g>
<g id="n-g3"><circle class="g w2" cx="712" cy="841" r="7"/></g>
<g id="n-psychedelizzm"><circle class="g w2" cx="723" cy="837" r="7"/><text class="l" x="723" y="839">psychedelizzm</text></g>
<g id="n-Happenstance8"><circle class="g w2" cx="693" cy="848" r="6"/><text class="l" x="693" y="850">Happenstance8</text></g>
<g id="n-jordicum"><circle class="g w2" cx="693" cy="863" r="6"/><text class="l" x="693" y="865">jordicum</text></g>
<g id="n-EdgarAllanLo"><circle class="g w2" cx="604" cy="909" r="8"/><text class="l" x="604" y="911">EdgarAllanLo</text></g>
<g id="n-JenniferJokes"><circle class="g w2" cx="559" cy="941" r="7"/><text class="l" x="559" y="943">JenniferJokes</text></g>
<g id="n-thatchergirl1"><circle class="g w2" cx="553" cy="974" r="7"/><text class="l" x="553" y="976">thatchergirl1</text></g>
<g id="n-g4"><circle class="g w2" cx="570" cy="969" r="9"/></g>
<g id="n-g5"><circle class="g w2" cx="526" cy="997" r="8"/><text class="l" x="530" y="999">bonehunter</text></g>
<g id="n-g6"><circle class="g w2" cx="563" cy="997" r="9"/></g>
<g id="n-TheHeyype"><circle class="g w2" cx="624" cy="999" r="9"/><text class="l" x="624" y="1001">TheHeyype</text></g>
<g id="n-g7"><circle class="g w2" cx="516" cy="1023" r="7"/></g>
<g id="n-PhilJesson"><circle class="g w2" cx="628" cy="1026" r="9"/><text class="l" x="628" y="1028">PhilJesson</text></g>
<g id="n-g8"><circle class="g w2" cx="561" cy="1043" r="8"/></g>
<g id="n-g9"><circle class="g w2" cx="526" cy="1046" r="9"/></g>
<g id="n-g10"><circle class="g w2" cx="483" cy="1051" r="7"/><text class="l" x="483" y="1051">NotTheWoods</text></g>
<g id="n-g11"><circle class="g w2" cx="497" cy="1054" r="7"/></g>
<g id="n-FrazzlMyGimp"><circle class="g w2" cx="634" cy="1046" r="8"/><text class="l" x="634" y="1048">FrazzlMyGimp</text></g>
<g id="n-brynmaster"><circle class="g w2" cx="527" cy="1066" r="8"/><text class="l" x="527" y="1068">brynmaster</text></g>
<g id="n-g12"><circle class="g w1" cx="765" cy="695" r="5"/></g>
<g id="n-g13"><circle class="g w1" cx="1040" cy="749" r="5"/></g>
<g id="n-unrealchild"><circle class="g w1" cx="1061" cy="811" r="5"/><text class="l" x="1047" y="813">unrealchild</text></g>
<g id="n-decoydesign"><circle class="g w2" cx="797" cy="783" r="8"/><text class="l" x="797" y="785">decoydesign</text></g>
<g id="n-mattsbshell"><circle class="g w2" cx="763" cy="801" r="6"/><text class="l" x="763" y="803">mattsbshell</text></g>
<g id="n-explain_deleuz"><circle class="g w2" cx="829" cy="806" r="6"/><text class="l" x="829" y="808">explain_deleuz</text></g>
<g id="n-Disparanormal"><circle class="g w2" cx="803" cy="850" r="6"/><text class="l" x="810" y="857">Disparanormal</text></g>
<g id="n-The_Last_Wave"><circle class="g w2" cx="952" cy="862" r="6"/><text class="l" x="952" y="864">The_Last_Wave</text></g>
<g id="n-g14"><circle class="g w2" cx="991" cy="862" r="6"/></g>
<g id="n-richardbreeze"><circle class="g w2" cx="912" cy="937" r="6"/><text class="l" x="912" y="939">richardbreeze</text></g>
<g id="n-anurgwho"><circle class="g w2" cx="844" cy="971" r="6"/><text class="l" x="844" y="973">anurgwho</text></g>
<g id="n-g15"><circle class="g w1" cx="1238" cy="323" r="5"/></g>
<g id="n-g16"><circle class="g w1" cx="1207" cy="388" r="5"/></g>

<g id="n-thestrangeharbor"><circle class="p w3" cx="774" cy="127" r="10"/><text class="l" x="774" y="127">thestrangeharbor</text></g>
<g id="n-inhbjaiz"><circle class="p w3" cx="792" cy="120" r="10"/><text class="m" x="780" y="130">inhbjaiz</text></g>
<g id="n-julianoliver"><circle class="p w3" cx="854" cy="125" r="10"/><text class="m" x="843" y="129">julianoliver</text></g>
<g id="n-p23"><circle class="p w3" cx="888" cy="125" r="10"/></g>
<g id="n-p24"><circle class="p w2" cx="942" cy="131" r="9"/></g>
<g id="n-p25"><circle class="p w3" cx="987" cy="140" r="11"/></g>
<g id="n-rd_kama"><circle class="p w4" cx="760" cy="165" r="18"/><text class="m" x="765" y="167">rd_kama</text></g>
<g id="n-slacktivism"><circle class="p w3" cx="807" cy="163" r="12"/><text class="l" x="810" y="165">slacktivism</text></g>
<g id="n-ineverhungebell"><circle class="p w3" cx="867" cy="153" r="12"/><text class="l" x="875" y="155">ineverhungebell</text></g>
<g id="n-p26"><circle class="p w4" cx="915" cy="157" r="17"/></g>
<g id="n-p27"><circle class="p w3" cx="807" cy="190" r="10"/></g>
<g id="n-mattdecolumbia"><circle class="p w3" cx="887" cy="187" r="12"/><text class="l" x="880" y="188">mattdecolumbia</text></g>
<g id="n-Mautaugh"><circle class="p w3" cx="782" cy="213" r="14"/><text class="m" x="785" y="216">Mautaugh</text></g>
<g id="n-ercdrums"><circle class="p w4" cx="868" cy="225" r="17"/><text class="l" x="875" y="218">ercdrums</text><text class="l" x="870" y="230">incognitosum</text></g>
<g id="n-ruba"><circle class="p w3" cx="742" cy="238" r="11"/><text class="m" x="745" y="240">ruba</text></g>
<g id="n-p28"><circle class="p w3" cx="982" cy="248" r="12"/></g>
<g id="n-ahmetasabanci"><circle class="p w4" cx="713" cy="253" r="20"/><text class="m" x="713" y="255">ahmetasabanci</text></g>
<g id="n-rosevelaz"><circle class="p w3" cx="779" cy="260" r="11"/><text class="l" x="779" y="262">rosevelaz</text></g>
<g id="n-mondannon"><circle class="p w4" cx="823" cy="265" r="17"/><text class="m" x="823" y="267">mondannon</text></g>
<g id="n-p29"><circle class="p w3" cx="737" cy="277" r="13"/></g>
<g id="n-round"><circle class="p w3" cx="1043" cy="312" r="13"/><text class="m" x="1043" y="313">round</text></g>
<g id="n-matterybuh"><circle class="p w3" cx="958" cy="327" r="12"/><text class="m" x="947" y="327">matterybuh</text></g>
<g id="n-p30"><circle class="p w3" cx="737" cy="350" r="13"/></g>
<g id="n-AREdotNA"><circle class="p w3" cx="1052" cy="342" r="12"/><text class="m" x="1050" y="343">AREdotNA</text></g>
<g id="n-neilkreutler"><circle class="p w3" cx="1020" cy="375" r="13"/><text class="l" x="1023" y="377">neilkreutler</text></g>
<g id="n-bushnell"><circle class="p w3" cx="758" cy="370" r="12"/><text class="l" x="758" y="371">bushnell</text></g>
<g id="n-p31"><circle class="p w3" cx="1087" cy="293" r="13"/></g>
<g id="n-p32"><circle class="p w4" cx="779" cy="397" r="22"/></g>
<g id="n-simon_sellars"><circle class="p w3" cx="756" cy="408" r="12"/><text class="m" x="747" y="412">simon_sellars</text></g>
<g id="n-p33"><circle class="p w2" cx="708" cy="413" r="9"/></g>
<g id="n-ianmcowell"><circle class="p w4" cx="999" cy="403" r="18"/><text class="l" x="1015" y="403">ianmcowell</text></g>
<g id="n-nykola"><circle class="p w4" cx="983" cy="468" r="18"/><text class="m" x="983" y="470">nykola</text></g>
<g id="n-StealThisSignal"><circle class="p w3" cx="838" cy="453" r="12"/><text class="m" x="840" y="455">StealThisSignal</text></g>
<g id="n-cjwhite"><circle class="p w3" cx="707" cy="475" r="10"/><text class="l" x="700" y="478">cjwhite</text></g>
<g id="n-p34"><circle class="p w4" cx="768" cy="480" r="16"/></g>
<g id="n-p35"><circle class="p w4" cx="645" cy="497" r="15"/></g>
<g id="n-p36"><circle class="p w3" cx="705" cy="507" r="10"/></g>
<g id="n-p37"><circle class="p w3" cx="803" cy="505" r="12"/></g>
<g id="n-p38"><circle class="p w3" cx="818" cy="525" r="14"/><text class="l" x="820" y="527">grailseeker</text></g>
<g id="n-p39"><circle class="p w3" cx="833" cy="540" r="14"/></g>

<g id="n-robdaemon"><circle class="c w4" cx="1193" cy="244" r="15"/></g>
<g id="n-pbaddeley"><circle class="c w3" cx="1225" cy="187" r="12"/></g>
<g id="n-alandnichol"><circle class="c w3" cx="1252" cy="198" r="12"/><text class="l" x="1247" y="200">alandnichol</text></g>
<g id="n-jamieabrew"><circle class="c w4" cx="1152" cy="295" r="18"/><text class="l" x="1140" y="288">jamieabrew</text></g>
<g id="n-MilesBrundage"><circle class="c w4" cx="1193" cy="311" r="15"/><text class="m" x="1205" y="313">MilesBrundage</text></g>
<g id="n-c50"><circle class="c w4" cx="1282" cy="328" r="15"/></g>
<g id="n-nandoutside"><circle class="c w3" cx="1112" cy="339" r="10"/><text class="m" x="1100" y="342">nandoutside</text></g>
<g id="n-c51"><circle class="c w3" cx="1089" cy="338" r="10"/></g>
<g id="n-c52"><circle class="c w4" cx="1111" cy="370" r="19"/></g>
<g id="n-beaugunderson"><circle class="c w4" cx="1030" cy="477" r="20"/><text class="m" x="1023" y="485">beaugunderson</text></g>
<g id="n-c53"><circle class="c w4" cx="1259" cy="448" r="16"/></g>
<g id="n-c54"><circle class="c w3" cx="736" cy="482" r="12"/></g>
<g id="n-c55"><circle class="c w3" cx="842" cy="512" r="12"/></g>
<g id="n-c56"><circle class="c w3" cx="879" cy="542" r="12"/></g>
<g id="n-c57"><circle class="c w3" cx="939" cy="521" r="12"/></g>
<g id="n-c58"><circle class="c w3" cx="968" cy="533" r="10"/></g>
<g id="n-nuns_on_film"><circle class="c w3" cx="811" cy="660" r="12"/><text class="m" x="810" y="663">nuns_on_film</text></g>
<g id="n-c59"><circle class="c w3" cx="995" cy="652" r="10"/></g>

<g id="n-o23"><circle class="o w3" cx="1209" cy="296" r="13"/></g>
<g id="n-gordonbrander"><circle class="o w4" cx="1208" cy="358" r="15"/><text class="m" x="1207" y="361">gordonbrander</text></g>
<g id="n-Mapletone"><circle class="o w3" cx="1302" cy="360" r="11"/><text class="m" x="1302" y="363">Mapletone</text></g>
<g id="n-litt"><circle class="o w3" cx="1333" cy="353" r="12"/><text class="m" x="1362" y="356">litt</text></g>
<g id="n-anthilemoon"><circle class="o w3" cx="1437" cy="460" r="10"/><text class="m" x="1437" y="461">anthilemoon</text></g>
<g id="n-Prigoose"><circle class="o w3" cx="1458" cy="519" r="11"/><text class="m" x="1458" y="521">Prigoose</text></g>
<g id="n-Rahul_Ramc"><circle class="o w3" cx="1431" cy="542" r="10"/><text class="l" x="1431" y="545">Rahul_Ramc</text></g>
<g id="n-orpheask"><circle class="o w3" cx="1492" cy="550" r="10"/><text class="l" x="1492" y="552">orpheask</text></g>
<g id="n-DrewCoffman"><circle class="o w4" cx="1437" cy="570" r="16"/><text class="m" x="1437" y="571">DrewCoffman</text></g>
<g id="n-o24"><circle class="o w4" cx="1160" cy="405" r="15"/></g>
<g id="n-o25"><circle class="o w3" cx="1192" cy="405" r="14"/><text class="l" x="1178" y="406">austinuster</text></g>
<g id="n-o26"><circle class="o w3" cx="1270" cy="420" r="10"/></g>
<g id="n-devonzuegel"><circle class="o w3" cx="1333" cy="440" r="10"/><text class="m" x="1333" y="443">devonzuegel</text></g>
<g id="n-o27"><circle class="o w3" cx="1373" cy="477" r="12"/></g>
<g id="n-startuployalist"><circle class="o w4" cx="1330" cy="505" r="22"/><text class="m" x="1333" y="508">startuployalist</text></g>
<g id="n-MenanderSoter"><circle class="o w4" cx="1273" cy="565" r="22"/><text class="m" x="1273" y="567">MenanderSoter</text><text class="l" x="1293" y="556">EpsilonTheory</text></g>
<g id="n-o28"><circle class="o w3" cx="1080" cy="583" r="14"/></g>
<g id="n-o29"><circle class="o w3" cx="1230" cy="573" r="10"/></g>
<g id="n-ellelong"><circle class="o w4" cx="1268" cy="628" r="20"/><text class="m" x="1280" y="631">ellelong</text></g>
<g id="n-o30"><circle class="o w4" cx="1373" cy="653" r="15"/></g>
<g id="n-cognazor"><circle class="o w3" cx="1390" cy="703" r="13"/><text class="m" x="1395" y="708">cognazor</text></g>
<g id="n-yashkaf"><circle class="o w3" cx="1447" cy="700" r="13"/><text class="m" x="1447" y="702">yashkaf</text></g>
<g id="n-o31"><circle class="o w3" cx="1521" cy="687" r="10"/></g>
<g id="n-o32"><circle class="o w3" cx="1427" cy="683" r="10"/></g>
<g id="n-o33"><circle class="o w3" cx="1063" cy="450" r="10"/></g>
<g id="n-mtraven"><circle class="o w4" cx="1103" cy="477" r="16"/><text class="m" x="1090" y="480">mtraven</text></g>

<g id="n-hyperfekt"><circle class="y w4" cx="1087" cy="670" r="22"/><text class="m" x="1070" y="673">hyperfekt</text></g>
<g id="n-crystalcultures"><circle class="y w3" cx="1233" cy="638" r="12"/><text class="m" x="1233" y="642">crystalcultures</text></g>
<g id="n-y24"><circle class="y w3" cx="1110" cy="640" r="13"/></g>
<g id="n-y25"><circle class="y w3" cx="1210" cy="632" r="10"/></g>
<g id="n-MRStory"><circle class="y w4" cx="1356" cy="632" r="16"/><text class="l" x="1353" y="635">MRStory</text></g>
<g id="n-y26"><circle class="y w3" cx="1337" cy="665" r="10"/></g>
<g id="n-y27"><circle class="y w4" cx="1297" cy="700" r="22"/></g>
<g id="n-olivertraldi"><circle class="y w3" cx="1260" cy="708" r="14"/><text class="m" x="1260" y="712">olivertraldi</text></g>
<g id="n-policefala"><circle class="y w3" cx="1069" cy="848" r="10"/><text class="m" x="1067" y="852">policefala</text></g>
<g id="n-niftierideology"><circle class="y w3" cx="1180" cy="733" r="12"/><text class="l" x="1153" y="735">niftierideology</text></g>
<g id="n-y28"><circle class="y w3" cx="1281" cy="733" r="14"/></g>
<g id="n-ModelOfTheory"><circle class="y w3" cx="1168" cy="760" r="13"/><text class="l" x="1168" y="762">ModelOfTheory</text></g>
<g id="n-y29"><circle class="y w3" cx="1209" cy="768" r="12"/></g>
<g id="n-y30"><circle class="y w3" cx="1272" cy="775" r="12"/></g>
<g id="n-y31"><circle class="y w4" cx="1339" cy="762" r="16"/></g>
<g id="n-y32"><circle class="y w3" cx="1186" cy="778" r="12"/></g>
<g id="n-y33"><circle class="y w3" cx="1245" cy="800" r="10"/></g>
<g id="n-y34"><circle class="y w4" cx="1375" cy="799" r="22"/><text class="l" x="1385" y="802">the_zombie</text></g>
<g id="n-y35"><circle class="y w3" cx="1413" cy="785" r="10"/></g>
<g id="n-jaxtarden"><circle class="y w3" cx="1488" cy="803" r="14"/><text class="l" x="1488" y="805">jaxtarden</text></g>
<g id="n-danFilos"><circle class="y w3" cx="1520" cy="792" r="12"/><text class="l" x="1522" y="793">danFilos</text></g>
<g id="n-kybot_redux"><circle class="y w3" cx="1515" cy="819" r="12"/><text class="m" x="1520" y="822">kybot_redux</text></g>
<g id="n-CyberneticMeadow"><circle class="y w3" cx="1130" cy="832" r="10"/><text class="l" x="1126" y="835">CyberneticMeadow</text></g>
<g id="n-y36"><circle class="y w4" cx="1245" cy="833" r="17"/></g>
<g id="n-bigmastertroll"><circle class="y w4" cx="1281" cy="818" r="19"/><text class="m" x="1279" y="824">bigmastertroll</text></g>
<g id="n-y37"><circle class="y w4" cx="1318" cy="833" r="20"/></g>
<g id="n-y38"><circle class="y w3" cx="1343" cy="848" r="10"/></g>
<g id="n-y39"><circle class="y w3" cx="1373" cy="835" r="10"/></g>
<g id="n-becomingCritter"><circle class="y w4" cx="1428" cy="825" r="20"/><text class="m" x="1429" y="828">becomingCritter</text></g>
<g id="n-y40"><circle class="y w3" cx="1475" cy="832" r="11"/></g>
<g id="n-willow_liana"><circle class="y w3" cx="1498" cy="747" r="12"/><text class="m" x="1497" y="749">willow_liana</text></g>
<g id="n-y41"><circle class="y w3" cx="1448" cy="863" r="12"/></g>
<g id="n-foundy2"><circle class="y w3" cx="1506" cy="913" r="10"/><text class="l" x="1506" y="913">foundy2</text></g>
<g id="n-MeFromBerlin"><circle class="y w4" cx="1147" cy="867" r="17"/><text class="m" x="1145" y="870">MeFromBerlin</text></g>
<g id="n-y42"><circle class="y w3" cx="1249" cy="862" r="14"/></g>
<g id="n-erin_nerung"><circle class="y w4" cx="1302" cy="887" r="15"/><text class="m" x="1302" y="891">erin_nerung</text></g>
<g id="n-y43"><circle class="y w4" cx="1327" cy="884" r="15"/></g>
<g id="n-y44"><circle class="y w3" cx="1396" cy="882" r="14"/><text class="l" x="1402" y="892">the_wilderless</text></g>
<g id="n-y45"><circle class="y w3" cx="1425" cy="900" r="11"/></g>
<g id="n-y46"><circle class="y w3" cx="1452" cy="897" r="12"/></g>
<g id="n-y47"><circle class="y w3" cx="1471" cy="918" r="12"/></g>
<g id="n-y48"><circle class="y w3" cx="1206" cy="895" r="13"/></g>
<g id="n-wildbuddhini"><circle class="y w4" cx="1295" cy="920" r="15"/><text class="m" x="1293" y="923">wildbuddhini</text></g>
<g id="n-y49"><circle class="y w4" cx="1268" cy="927" r="15"/></g>
<g id="n-y50"><circle class="y w3" cx="1218" cy="933" r="14"/></g>
<g id="n-y51"><circle class="y w3" cx="1199" cy="936" r="10"/></g>
<g id="n-BLUNDERBUSS"><circle class="y w3" cx="1360" cy="930" r="12"/><text class="l" x="1348" y="936">BLUNDERBUSS</text></g>
<g id="n-y52"><circle class="y w3" cx="1387" cy="922" r="10"/></g>
<g id="n-y53"><circle class="y w3" cx="1421" cy="932" r="12"/></g>
<g id="n-y54"><circle class="y w3" cx="1447" cy="935" r="14"/></g>
<g id="n-paleglacio"><circle class="y w3" cx="1224" cy="957" r="12"/><text class="l" x="1222" y="962">paleglacio</text></g>
<g id="n-gephatziel"><circle class="y w4" cx="1256" cy="965" r="15"/><text class="m" x="1256" y="968">gephatziel</text></g>
<g id="n-sermshw"><circle class="y w4" cx="1317" cy="972" r="20"/><text class="m" x="1318" y="975">sermshw</text></g>
<g id="n-y55"><circle class="y w3" cx="1377" cy="967" r="10"/></g>
<g id="n-y56"><circle class="y w3" cx="1387" cy="952" r="14"/></g>
<g id="n-protoputype"><circle class="y w3" cx="1450" cy="960" r="10"/><text class="l" x="1459" y="965">protoputype</text></g>

<g id="n-beknoss"><circle class="g w4" cx="976" cy="711" r="16"/><text class="l" x="976" y="713">beknoss</text></g>
<g id="n-determinist"><circle class="g w3" cx="1023" cy="771" r="14"/><text class="l" x="1017" y="772">determinist</text></g>
<g id="n-IGGRood"><circle class="g w3" cx="765" cy="759" r="11"/><text class="m" x="765" y="763">IGGRood</text></g>
<g id="n-Angiengie"><circle class="g w3" cx="533" cy="1029" r="10"/><text class="l" x="533" y="1031">Angiengie</text></g>
<g id="n-TheAndrewNadeau"><circle class="g w3" cx="571" cy="1017" r="10"/><text class="l" x="571" y="1019">TheAndrewNadeau</text></g>
<g id="n-g17"><circle class="g w3" cx="602" cy="1022" r="10"/></g>

<g id="n-lifewinning"><circle class="p w2" cx="843" cy="290" r="7"/><text class="d" x="847" y="282">lifewinning</text></g>
<g id="n-ibogost"><circle class="p w2" cx="875" cy="302" r="9"/><text class="d" x="877" y="307">ibogost</text></g>
<g id="n-geoffmanaugh"><circle class="p w2" cx="847" cy="318" r="8"/><text class="d" x="847" y="320">geoffmanaugh</text></g>
<g id="n-bruces"><circle class="p w2" cx="867" cy="352" r="7"/><text class="d" x="867" y="355">bruces</text></g>
<g id="n-yoshkoff"><circle class="p w2" cx="875" cy="383" r="6"/><text class="d" x="880" y="385">yoshkoff</text></g>
<g id="n-BigMeatInternet"><circle class="p w2" cx="850" cy="400" r="8"/><text class="d" x="847" y="403">BigMeatInternet</text></g>
<g id="n-justinpickard"><circle class="p w3" cx="710" cy="158" r="10"/><text class="d" x="705" y="163">justinpickard</text></g>
<g id="n-rhizome"><circle class="p w3" cx="885" cy="257" r="10"/><text class="d" x="887" y="259">rhizome</text></g>
<g id="n-evgenymorozov"><circle class="p w3" cx="955" cy="278" r="10"/><text class="d" x="943" y="280">evgenymorozov</text></g>
<g id="n-jamesbridle"><circle class="p w3" cx="823" cy="147" r="11"/><text class="d" x="823" y="148">jamesbridle</text></g>
<g id="n-PaulGrahamRaven"><circle class="p w3" cx="678" cy="177" r="11"/><text class="d" x="680" y="177">PaulGrahamRaven</text></g>
<g id="n-timhwang"><circle class="p w3" cx="1017" cy="272" r="11"/><text class="d" x="1017" y="275">timhwang</text></g>
<g id="n-aparrish"><circle class="p w3" cx="1035" cy="233" r="12"/><text class="d" x="1033" y="238">aparrish</text></g>
<g id="n-caseorganic"><circle class="p w3" cx="820" cy="295" r="12"/><text class="d" x="820" y="297">caseorganic</text></g>
<g id="n-debcha"><circle class="p w3" cx="702" cy="229" r="13"/><text class="d" x="700" y="231">debcha</text></g>
<g id="n-timmaughan"><circle class="p w3" cx="740" cy="190" r="14"/><text class="d" x="740" y="192">timmaughan</text></g>
<g id="n-katecrawford"><circle class="p w3" cx="923" cy="195" r="14"/><text class="d" x="923" y="199">katecrawford</text></g>
<g id="n-Jaymo"><circle class="p w3" cx="815" cy="217" r="14"/><text class="d" x="827" y="220">Jaymo</text></g>
<g id="n-extradimenz"><circle class="p w3" cx="662" cy="277" r="14"/><text class="d" x="662" y="274">extradimenz</text></g>
<g id="n-TheEmilyDare"><circle class="p w3" cx="637" cy="333" r="14"/><text class="d" x="637" y="337">TheEmilyDare</text></g>
<g id="n-hollyherndon"><circle class="p w4" cx="957" cy="245" r="15"/><text class="d" x="957" y="248">hollyherndon</text></g>
<g id="n-tinysubversions"><circle class="p w4" cx="923" cy="307" r="15"/><text class="d" x="923" y="312">tinysubversions</text></g>
<g id="n-nathanjurgenson"><circle class="p w4" cx="895" cy="335" r="15"/><text class="d" x="893" y="340">nathanjurgenson</text></g>
<g id="n-leashless"><circle class="p w4" cx="1008" cy="442" r="16"/><text class="d" x="1008" y="445">leashless</text></g>
<g id="n-mediapathic"><circle class="p w4" cx="725" cy="445" r="20"/><text class="d" x="723" y="448">mediapathic</text></g>
<g id="n-bratton"><circle class="p w4" cx="990" cy="326" r="22"/><text class="d" x="990" y="327">bratton</text></g>
<g id="n-m1k3y"><circle class="p w4" cx="708" cy="360" r="25"/><text class="d" x="707" y="363">m1k3y</text></g>
<g id="n-mathpunk"><circle class="p w4" cx="843" cy="370" r="25"/><text class="d" x="843" y="373">mathpunk</text></g>
<g id="n-chenoehart"><circle class="p w4" cx="967" cy="397" r="29"/><text class="d" x="967" y="399">chenoehart</text></g>

<g id="n-neighbors_wifi"><circle class="c w1" cx="1058" cy="690" r="5"/><text class="d" x="1038" y="686">neighbor's_wifi</text></g>
<g id="n-Aelkus"><circle class="c w3" cx="1093" cy="540" r="11"/><text class="d" x="1090" y="540">Aelkus</text></g>
<g id="n-Theratanolac"><circle class="c w3" cx="882" cy="670" r="12"/><text class="d" x="882" y="672">Theratanolac</text></g>
<g id="n-ZachWeiner"><circle class="c w4" cx="1012" cy="588" r="22"/><text class="d" x="1027" y="591">ZachWeiner</text></g>

<g id="n-gwern"><circle class="g w1" cx="1308" cy="576" r="5"/><text class="d" x="1308" y="577">gwern</text></g>
<g id="n-juliagalef"><circle class="o w2" cx="1345" cy="520" r="8"/><text class="d" x="1362" y="528">juliagalef</text></g>
<g id="n-Meaningness"><circle class="o w2" cx="1300" cy="605" r="8"/><text class="d" x="1298" y="608">Meaningness</text></g>
<g id="n-webdevMason"><circle class="o w2" cx="1440" cy="600" r="9"/><text class="d" x="1438" y="605">webdevMason</text></g>
<g id="n-reasonisfun"><circle class="o w2" cx="1509" cy="667" r="9"/><text class="d" x="1510" y="669">reasonisfun</text></g>
<g id="n-sarahdoingthing"><circle class="o w3" cx="1152" cy="620" r="10"/><text class="d" x="1152" y="624">sarahdoingthing</text></g>
<g id="n-Aella_Girl"><circle class="o w3" cx="1480" cy="687" r="10"/><text class="d" x="1478" y="691">Aella_Girl</text></g>
<g id="n-andy_matuschak"><circle class="o w3" cx="1365" cy="410" r="12"/><text class="d" x="1365" y="413">andy_matuschak</text></g>
<g id="n-stewartbrand"><circle class="o w3" cx="1120" cy="417" r="13"/><text class="d" x="1140" y="420">stewartbrand</text></g>
<g id="n-KevinSimler"><circle class="o w3" cx="1360" cy="587" r="14"/><text class="d" x="1360" y="588">KevinSimler</text></g>
<g id="n-tomcritchlow"><circle class="o w4" cx="1115" cy="254" r="15"/><text class="d" x="1115" y="257">tomcritchlow</text></g>
<g id="n-vgr"><circle class="o w4" cx="1195" cy="515" r="16"/><text class="d" x="1195" y="517">vgr</text></g>
<g id="n-RichDecibels"><circle class="o w4" cx="1233" cy="597" r="16"/><text class="d" x="1233" y="597">RichDecibels</text></g>
<g id="n-Malcolm_Ocean"><circle class="o w4" cx="1472" cy="610" r="16"/><text class="d" x="1473" y="613">Malcolm_Ocean</text></g>
<g id="n-aaronzlewis"><circle class="o w4" cx="1273" cy="490" r="17"/><text class="d" x="1273" y="493">aaronzlewis</text></g>
<g id="n-visakanv"><circle class="o w4" cx="1417" cy="635" r="17"/><text class="d" x="1417" y="637">visakanv</text></g>
<g id="n-nwilliams030"><circle class="o w4" cx="1265" cy="527" r="18"/><text class="d" x="1265" y="527">nwilliams030</text></g>

<g id="n-slatestarcodex"><circle class="y w2" cx="1303" cy="660" r="7"/><text class="d" x="1300" y="663">slatestarcodex</text></g>
<g id="n-alicemazzy"><circle class="y w2" cx="1262" cy="676" r="7"/><text class="d" x="1267" y="672">alicemazzy</text></g>
<g id="n-ctrlcreep"><circle class="y w2" cx="1078" cy="741" r="8"/><text class="d" x="1078" y="745">ctrlcreep</text></g>
<g id="n-allgebrah"><circle class="y w2" cx="1111" cy="785" r="9"/><text class="d" x="1111" y="788">allgebrah</text></g>
<g id="n-The_Lagrangian"><circle class="y w3" cx="1227" cy="688" r="12"/><text class="d" x="1230" y="689">The_Lagrangian</text></g>
<g id="n-halvorz"><circle class="y w3" cx="1362" cy="750" r="12"/><text class="d" x="1362" y="753">halvorz</text></g>
<g id="n-mechanical_monk"><circle class="y w3" cx="1480" cy="860" r="13"/><text class="d" x="1480" y="862">mechanical_monk</text></g>
<g id="n-leaacta"><circle class="y w3" cx="1260" cy="880" r="13"/><text class="d" x="1260" y="880">leaacta</text></g>
<g id="n-cigfran_lwyd"><circle class="y w3" cx="975" cy="645" r="14"/><text class="d" x="990" y="648">cigfran_lwyd</text></g>
<g id="n-simpolism"><circle class="y w3" cx="1254" cy="739" r="14"/><text class="d" x="1245" y="739">simpolism</text></g>
<g id="n-nosilverv"><circle class="y w4" cx="1463" cy="755" r="15"/><text class="d" x="1463" y="759">nosilverv</text></g>
<g id="n-gorprata"><circle class="y w4" cx="1367" cy="870" r="15"/><text class="d" x="1367" y="875">gorprata</text></g>
<g id="n-literalbanana"><circle class="y w4" cx="1327" cy="725" r="16"/><text class="d" x="1329" y="729">literalbanana</text></g>
<g id="n-chaosprime"><circle class="y w4" cx="1179" cy="822" r="17"/><text class="d" x="1180" y="825">chaosprime</text></g>
<g id="n-eigenrobot"><circle class="y w4" cx="1315" cy="797" r="22"/><text class="d" x="1315" y="798">eigenrobot</text></g>
<g id="n-goblinodds"><circle class="y w4" cx="1408" cy="858" r="22"/><text class="d" x="1402" y="862">goblinodds</text></g>
<g id="n-GeniesLoki"><circle class="y w4" cx="1442" cy="793" r="25"/><text class="d" x="1440" y="796">GeniesLoki</text></g>

<g id="n-midasdsin"><circle class="g w4" cx="857" cy="685" r="16"/><text class="d" x="857" y="687">midasdsin</text></g>
<g id="n-cat_upgrades"><circle class="g w4" cx="894" cy="742" r="19"/><text class="d" x="893" y="745">cat_upgrades</text></g>
</g>
</svg>
